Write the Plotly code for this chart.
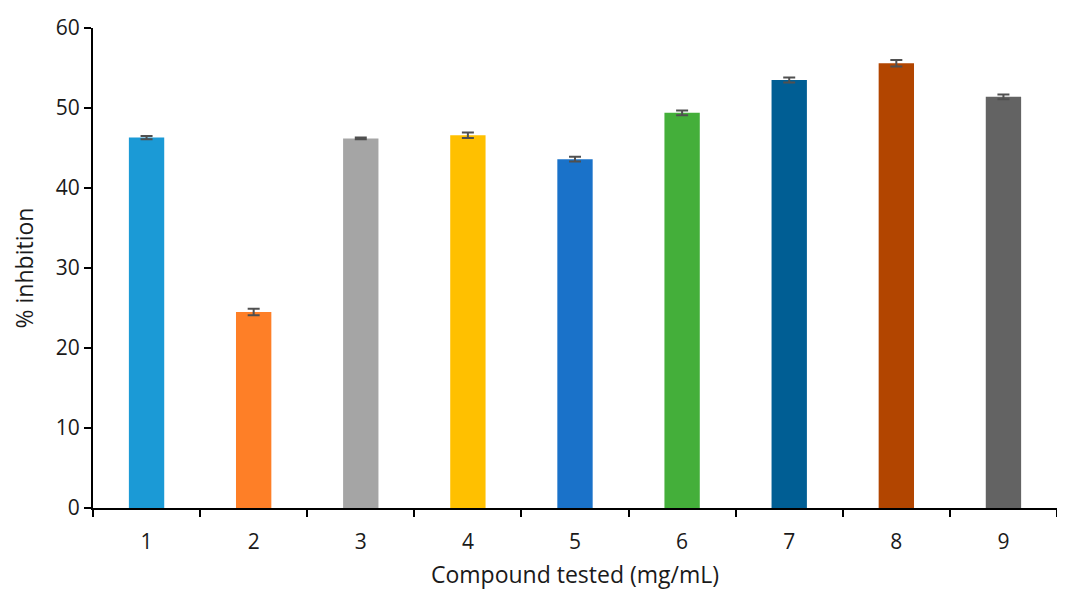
import plotly.graph_objects as go

categories = ["1", "2", "3", "4", "5", "6", "7", "8", "9"]
inhibition = [46.3, 24.5, 46.2, 46.6, 43.6, 49.4, 53.5, 55.6, 51.4]
errors = [0.2, 0.4, 0.1, 0.35, 0.3, 0.3, 0.3, 0.4, 0.3]
bar_colors = ["#1B9AD6", "#FE7F27", "#A5A5A5", "#FFC000", "#1A72C9",
              "#44AF3A", "#005E94", "#B24500", "#636363"]

font_family = "Open Sans, Noto Sans, Liberation Sans, sans-serif"

fig = go.Figure()
fig.add_trace(go.Bar(
    x=categories,
    y=inhibition,
    marker=dict(color=bar_colors, line=dict(width=0)),
    width=0.33,
    error_y=dict(type="data", array=errors, visible=True,
                 color="#505050", thickness=2, width=6),
    showlegend=False,
))

fig.update_layout(
    width=1057, height=582,
    margin=dict(l=85, r=8, t=20, b=82),
    plot_bgcolor="white", paper_bgcolor="white",
    font=dict(family=font_family, size=21, color="#1a1a1a"),
    xaxis=dict(
        title=dict(text="Compound tested (mg/mL)", font=dict(size=23), standoff=19),
        showline=True, linecolor="black", linewidth=2,
        ticks="outside", tickson="boundaries", ticklen=7, tickcolor="black", tickwidth=1.5,
        ticklabelstandoff=14, automargin=False,
        showgrid=False, range=[-0.5, 8.5],
    ),
    yaxis=dict(
        title=dict(text="% inhbition", font=dict(size=23), standoff=29),
        showline=True, linecolor="black", linewidth=2,
        ticks="outside", ticklen=7, tickcolor="black", tickwidth=1.5,
        automargin=False,
        showgrid=False, range=[0, 60], dtick=10, zeroline=False,
    ),
)

fig.write_html("out.html")
